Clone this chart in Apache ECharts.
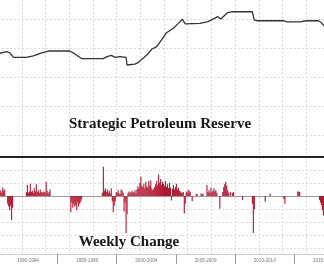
<!DOCTYPE html>
<html>
<head>
<meta charset="utf-8">
<script src="https://cdn.jsdelivr.net/npm/echarts@6/dist/echarts.min.js"></script>
<style>
html,body{margin:0;padding:0;background:#fff;}
#chart{width:324px;height:264px;}
</style>
</head>
<body>
<div id="chart"></div>
<script>
// Strategic Petroleum Reserve level (million barrels)
var sprDates = ['1990-02','1990-09','1990-12','1991-04','1992-05','1992-12','1993-07','1994-03','1996-01','1996-06','1997-01','1998-11','1999-02','1999-07','1999-11','2000-04','2000-10','2000-11','2001-07','2001-10','2002-07','2002-12','2003-05','2003-10','2004-03','2004-10','2005-03','2005-07','2005-10','2007-01','2007-09','2008-07','2008-10','2009-05','2009-10','2011-06','2011-08','2011-12','2014-02','2014-05','2015-06','2016-01','2017-01','2017-04','2017-06','2017-07'];
var sprLevels = [583,589,585,569,569,574,583,591,591,581,565,565,571,576,569,572,569,543,546,551,577,597,606,629,654,669,686,700,684,686,692,709,701,723,726,726,697,695,695,691,691,695,695,688,680,676];

// Weekly change (million barrels), sampled about once a month
var changeDates = [
 '1990-02','1990-03','1990-04','1990-05','1990-06','1990-07',
 '1990-10','1990-11','1990-12','1991-01','1991-02','1991-03',
 '1992-05','1992-06','1992-07','1992-08','1992-09','1992-10','1992-11','1992-12',
 '1993-01','1993-02','1993-03','1993-04','1993-05','1993-06','1993-07','1993-08','1993-09','1993-10','1993-11','1993-12',
 '1994-01','1994-02','1994-03','1994-04','1994-05',
 '1996-02','1996-03','1996-04','1996-05','1996-06','1996-07','1996-08','1996-09','1996-10','1996-11','1996-12','1997-01',
 '1998-10','1998-11','1998-12','1999-01','1999-02','1999-03','1999-04','1999-05','1999-06','1999-07','1999-08','1999-09','1999-10','1999-11','1999-12',
 '2000-01','2000-02','2000-03','2000-04','2000-05','2000-06','2000-07','2000-08','2000-09','2000-10','2000-11','2000-12',
 '2001-01','2001-02','2001-03','2001-04','2001-05','2001-06','2001-07','2001-08','2001-09','2001-10','2001-11','2001-12',
 '2002-01','2002-02','2002-03','2002-04','2002-05','2002-06','2002-07','2002-08','2002-09','2002-10','2002-11','2002-12',
 '2003-01','2003-02','2003-03','2003-04','2003-05','2003-06','2003-07','2003-08','2003-09','2003-10','2003-11','2003-12',
 '2004-01','2004-02','2004-03','2004-04','2004-05','2004-06','2004-07','2004-08','2004-09','2004-10','2004-11','2004-12',
 '2005-01','2005-02','2005-03','2005-04','2005-05','2005-06','2005-07','2005-08','2005-09','2005-10','2005-11','2005-12',
 '2006-01','2006-02','2006-03','2006-05','2006-09','2006-10','2007-02','2007-03','2007-04',
 '2007-08','2007-09','2007-10','2007-11','2007-12','2008-01','2008-02','2008-03','2008-04','2008-05','2008-06',
 '2008-09','2008-12','2009-01','2009-02','2009-03','2009-04','2009-05','2009-06','2009-08','2009-10','2009-11',
 '2010-08','2011-06','2011-07','2011-08','2012-07','2012-12','2014-02','2014-03',
 '2015-04','2015-05','2015-06','2017-02','2017-03','2017-04','2017-05','2017-06'
];
var changeValues = [
 0.6,0.9,0.5,1.3,0.8,1.0,
 -1.2,-1.6,-2.2,-1.5,-3.7,-1.8,
 0.6,1.7,0.5,0.7,1.9,0.6,0.8,0.5,
 1.2,0.7,1.8,0.6,0.9,0.5,1.0,0.6,0.5,0.7,0.6,0.5,
 2.2,0.8,0.4,0.6,1.0,
 -2.5,-1.0,-1.8,-1.2,-1.6,-1.4,-2.2,-1.0,-1.6,-1.2,-0.9,-0.5,
 0.5,4.5,0.8,1.2,0.6,1.0,0.5,0.8,0.4,1.2,-0.8,-2.5,-1.5,-0.8,0.6,
 0.5,0.9,0.4,0.3,1.0,0.8,0.5,-2.4,-1.0,-5.7,-2.8,0.5,
 0.7,0.4,0.6,0.8,0.5,0.6,0.9,0.4,1.0,1.5,1.2,2.0,
 3.0,1.6,1.4,1.9,1.2,2.2,1.5,1.3,2.3,1.6,2.4,1.2,
 0.9,1.1,1.4,1.8,2.3,1.6,3.3,2.0,2.6,1.7,2.2,1.9,
 1.5,2.3,1.4,1.8,1.2,2.0,1.3,-0.7,1.1,1.7,1.0,1.4,
 1.9,1.0,1.3,0.8,0.7,0.5,0.5,0.6,-2.7,-1.2,0.7,0.5,
 0.9,0.8,0.6,-0.8,0.3,0.3,0.4,0.3,0.4,
 1.7,0.6,0.9,0.5,1.3,0.6,0.8,1.2,0.7,0.9,0.5,
 -1.95,0.6,1.4,1.8,2.2,1.6,0.9,0.5,0.6,0.5,0.6,
 -0.6,-1.2,-5.7,-2.0,-0.9,0.4,-0.5,-1.2,
 0.7,0.7,0.6,-0.6,-1.0,-1.4,-2.2,-3.0
];

var periodLabels = ['1990-1994','1995-1999','2000-2004','2005-2009','2010-2014','2015-2019'];

function toYear(s) {
  var p = s.split('-');
  return +p[0] + (+p[1] - 0.5) / 12;
}
var sprData = sprDates.map(function (d, i) { return [toYear(d), sprLevels[i]]; });
var changeData = changeDates.map(function (d, i) { return [toYear(d), changeValues[i]]; });

var gridLine = { show: true, lineStyle: { color: '#d9d9d9', type: [2, 2], width: 1 } };
var X0 = -1.7, W = 355.2;

var chart = echarts.init(document.getElementById('chart'), null, { renderer: 'canvas' });
chart.setOption({
  animation: false,
  backgroundColor: '#ffffff',
  grid: [
    { left: X0, width: W, top: 0, height: 157, containLabel: false, outerBoundsMode: 'none' },
    { left: X0, width: W, top: 157, height: 97, containLabel: false, outerBoundsMode: 'none' }
  ],
  xAxis: [
    { type: 'value', gridIndex: 0, min: 1990, max: 2020, interval: 2,
      axisLine: { show: true, onZero: false, lineStyle: { color: '#222', width: 2 } },
      axisTick: { show: false }, axisLabel: { show: false }, splitLine: gridLine },
    { type: 'value', gridIndex: 1, position: 'top', min: 1990, max: 2020, interval: 2,
      axisLine: { show: true, onZero: true, lineStyle: { color: '#9a9a9a', width: 1 } },
      axisTick: { show: false }, axisLabel: { show: false }, splitLine: gridLine },
    { type: 'category', gridIndex: 1, position: 'bottom', data: periodLabels, boundaryGap: true,
      axisLine: { show: true, onZero: false, lineStyle: { color: '#cfcfcf', width: 1 } },
      axisTick: { show: true, length: 10, lineStyle: { color: '#9a9a9a' } },
      axisLabel: { show: true, interval: 0, fontSize: 4.6, color: '#777', margin: 4, fontFamily: 'Liberation Sans' },
      splitLine: { show: false } }
  ],
  yAxis: [
    { type: 'value', gridIndex: 0, min: 226.8, max: 766.3, splitNumber: 5,
      axisLine: { show: false }, axisTick: { show: false }, axisLabel: { show: false },
      splitLine: { show: true, showMinLine: false, showMaxLine: false, lineStyle: { color: '#d9d9d9', type: [2, 2] } } },
    { type: 'value', gridIndex: 1, min: -8.923, max: 6, splitNumber: 7,
      axisLine: { show: false }, axisTick: { show: false }, axisLabel: { show: false },
      splitLine: { show: true, showMinLine: true, showMaxLine: false, lineStyle: { color: '#d9d9d9', type: [2, 2] } } }
  ],
  series: [
    { type: 'line', xAxisIndex: 0, yAxisIndex: 0, data: sprData, showSymbol: false,
      lineStyle: { color: '#333', width: 1.3 }, clip: true, z: 3 },
    { type: 'bar', xAxisIndex: 1, yAxisIndex: 1, data: changeData, barWidth: 1.1,
      itemStyle: { color: '#b3152f' }, z: 3 }
  ],
  graphic: [
    { type: 'text', x: 160, y: 124.5, z: 10,
      style: { text: 'Strategic Petroleum Reserve', fill: '#151515', font: 'bold 15px "Liberation Serif", serif',
        textAlign: 'center', textVerticalAlign: 'middle',
        shadowColor: 'rgba(0,0,0,0.35)', shadowBlur: 2, shadowOffsetX: 1, shadowOffsetY: 1 } },
    { type: 'text', x: 129, y: 242.5, z: 10,
      style: { text: 'Weekly Change', fill: '#151515', font: 'bold 15px "Liberation Serif", serif',
        textAlign: 'center', textVerticalAlign: 'middle',
        shadowColor: 'rgba(0,0,0,0.35)', shadowBlur: 2, shadowOffsetX: 1, shadowOffsetY: 1 } }
  ]
});
</script>
</body>
</html>
